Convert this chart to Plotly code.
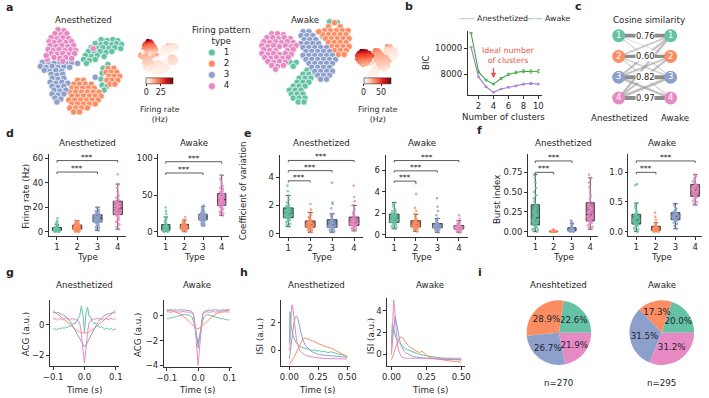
import plotly.graph_objects as go

W, H = 709, 398
FONT = "DejaVu Sans"
TXT = "#262626"
PAL = ["#66c2a5", "#fc8d62", "#8da0cb", "#e78ac3"]
PAL_BOX = ["#55a88d", "#d9794f", "#7888ad", "#c776a6"]
TYPES = [1, 2, 3, 4]
TYPE_LABELS = ["1", "2", "3", "4"]
REDS = [[0.0, "#fff5f0"], [0.125, "#fee0d2"], [0.25, "#fcbba1"], [0.375, "#fc9272"],
        [0.5, "#fb6a4a"], [0.625, "#ef3b2c"], [0.75, "#cb181d"], [0.875, "#a50f15"], [1.0, "#67000d"]]

# ---------------- data: t-SNE embeddings (arbitrary units) ----------------
tsne_anes_1 = [(96,39),(102,40),(108,39),(113,40),(90,43),(96,44),(101,43),(107,44),(112,43),(117,44),
               (86,47),(92,48),(98,47),(104,48),(110,47),(116,48),(83,51),(89,52),(95,51),(101,52),(107,51),
               (80,55),(86,56),(92,55),(99,56),(78,59),(84,60),(90,59),(81,63),(103,64),(98,68),(104,69),
               (97,73),(103,74),(96,79),(101,80),(97,85),(102,86),(99,90)]
tsne_anes_2 = [(103,68),(109,68),(101,72),(106,72),(112,72),(104,76),(109,76),(115,76),(102,80),(107,80),
               (113,80),(105,84),(110,84),(72,80),(78,80),(68,84),(74,84),(80,84),(86,84),(66,88),(71,88),
               (77,88),(83,88),(89,88),(64,92),(70,92),(76,92),(82,92),(88,92),(94,92),(66,96),(72,96),
               (78,96),(84,96),(90,96),(96,96),(63,100),(69,100),(75,100),(81,100),(87,100),(93,100),
               (66,104),(72,104),(78,104),(84,104),(90,104),(64,108),(70,108),(76,108),(82,108),(68,112),(74,112)]
tsne_anes_3 = [(52,58),(58,58),(64,59),(36,62),(42,62),(48,63),(54,62),(60,63),(66,62),(72,63),
               (34,66),(40,67),(46,66),(52,67),(58,66),(64,67),(38,70),(44,71),(50,70),(56,71),
               (45,74),(51,75),(57,74),(46,78),(52,79),(58,78),(44,82),(50,83),(56,82),(62,83),
               (46,86),(52,87),(58,86),(48,90),(54,91),(60,90),(46,94),(52,95),(58,94),(49,98),(55,99),
               (51,102),(90,77)]
tsne_anes_4 = [(52,29),(58,30),(49,33),(55,34),(61,33),(45,37),(51,38),(57,37),(63,38),
               (43,41),(48,42),(54,41),(60,42),(66,41),(44,45),(50,46),(56,45),(62,46),(68,45),
               (42,49),(47,50),(53,49),(59,50),(65,49),(70,50),(45,53),(51,54),(57,53),(63,54),(69,53),
               (48,57),(54,58),(60,57),(66,58),(41,59),(57,61),(88,48),(40,55)]

tsne_awake_1 = [(329,21),(337,22),(322,36),(333,44),(289,62),(295,62),(318,62),(292,66),(312,66),(318,66),
                (306,70),(312,70),(302,74),(308,74),(314,74),(298,78),(304,78),(310,78),(296,82),(302,82),
                (308,82),(292,86),(298,86),(304,86),(288,90),(294,90),(300,90),(290,94),(296,94),(302,94),
                (292,98),(298,98),(304,98),(297,102),(303,102)]
tsne_awake_2 = [(334,22),(328,26),(340,26),(324,30),(330,30),(336,30),(342,30),(348,30),
                (322,34),(328,34),(334,34),(340,34),(346,34),(325,38),(331,38),(337,38),(343,38),(349,38),
                (328,42),(334,42),(340,42),(346,42),(331,46),(337,46),(343,46),(349,46),
                (334,50),(340,50),(346,50),(338,54),(344,54),(315,72),(318,31)]
tsne_awake_3 = [(302,31),(308,31),(300,35),(306,35),(312,35),(303,39),(309,39),(315,39),
                (300,43),(306,43),(312,43),(318,43),(302,47),(308,47),(314,47),(320,47),(326,47),
                (305,51),(311,51),(317,51),(323,51),(329,51),(302,55),(308,55),(314,55),(320,55),(326,55),(332,55),
                (305,59),(311,59),(317,59),(323,59),(329,59),(335,59),(308,63),(314,63),(320,63),(326,63),(332,63),
                (311,67),(317,67),(323,67),(329,67),(314,71),(320,71),(326,71),(332,71),
                (317,75),(323,75),(329,75),(320,79),(326,79)]
tsne_awake_4 = [(270,33),(276,33),(282,34),(265,37),(271,37),(277,38),(283,37),(289,38),
                (262,41),(268,42),(274,41),(280,42),(286,41),(292,42),(260,45),(266,46),(272,45),(278,46),
                (284,45),(290,46),(295,45),(262,49),(268,50),(274,50),(286,50),(292,49),
                (260,53),(266,54),(272,53),(278,54),(284,53),(290,54),(263,57),(269,58),(275,57),(281,58),(287,57),
                (266,61),(272,62),(278,61),(284,62),(270,65),(276,66),(282,65),(274,69)]

# ---------------- data: firing rate (Hz) per neuron, per type ----------------
fr_anes_1 = [11,9,8,7,6,5,5,4,4,3.5,3,3,3,3,2.5,2.5,2,2,2,2,2,1.8,1.5,1.5,1.5,1.2,1,1,1,1,0.8,0.8,0.6,0.5,0.4,0.3,0.2,0.1,0]
fr_anes_2 = [9,8.5,8,8,7.5,7,7,6.5,6.5,6,6,6,5.5,5.5,5,5,5,4.5,4.5,4.5,4,4,4,4,4,3.8,3.5,3.5,3.5,3,
             3,3,3,2.8,2.5,2.5,2.5,2.2,2,2,2,2,1.8,1.5,1.5,1.2,1,1,0.8,0.5,0.3,0.2,0]
fr_anes_3 = [20,19,18,17,16.5,16,15,15,14.5,14,14,13.5,13,13,12.5,12,12,11.5,11.5,11,11,11,10.5,10,10,9.5,9.5,9,9,8.5,
             8.5,8,8,7.5,7,6.5,6,5,4.5,4,3,2,1]
fr_anes_4 = [47,39,36,33,31,29,28,26,25,25,24,23,22,22,21,21,20,20,20,19,19,18,17,17,16,15,15,14,14,13,12,11,10,9,8,6,4,2]
fr_awake_1 = [33,28,24,20,17,15,13,11,10,9,9,8,7.5,7,6.5,6,5.5,5,5,4.5,4,3.5,3,3,2.5,2,2,1.5,1.5,1,1,0.5,0.5,0.2,0]
fr_awake_2 = [20,16,14,13,12,11,10.5,10,10,9.5,9,8.5,8,8,7.5,7,7,6.5,6,6,5.5,5,5,4.5,4,4,3.5,3,2.5,2,1.5,1,0]
fr_awake_3 = [36,34,32,30,29,28,27,26,25.5,25,24.5,24,24,23.5,23,23,22.5,22,22,21.5,21,21,20.5,20.5,20,20,20,19.5,19,19,
              18.5,18.5,18,18,17.5,17,17,16.5,16,16,15.5,15,15,14.5,14,13.5,13,12,11,10,9,8]
fr_awake_4 = [77,72,68,65,62,60,58,56,55,54,53,52,51,50,49,48,47,47,46,46,45,45,44,44,43,42,41,40,40,39,
              38,37,37,36,35,34,33,32,31,30,28,27,25,24,22]

# ---------------- data: coefficient of variation ----------------
cv_anes_1 = [3.4,3.0,2.7,2.4,2.2,2.0,1.95,1.9,1.85,1.8,1.75,1.7,1.65,1.6,1.55,1.5,1.48,1.45,1.42,1.4,1.35,1.3,1.28,1.25,1.2,1.18,1.15,1.1,1.05,1.0,0.95,0.9,0.8,0.7,0.6,0.5]
cv_anes_2 = [2.1,1.7,1.5,1.3,1.2,1.1,1.0,0.95,0.9,0.85,0.8,0.78,0.75,0.72,0.7,0.68,0.66,0.65,0.63,0.6,0.58,0.55,0.52,0.5,0.48,0.46,0.45,0.42,0.4,0.35,0.3,0.25,0.2,0.1]
cv_anes_3 = [3.6,2.2,2.1,1.8,1.4,1.3,1.2,1.1,1.0,0.95,0.9,0.85,0.8,0.75,0.72,0.7,0.67,0.65,0.63,0.6,0.58,0.55,0.52,0.5,0.48,0.46,0.45,0.42,0.4,0.35,0.3,0.25,0.2,0.15,0.1]
cv_anes_4 = [3.4,2.6,2.3,2.0,1.7,1.5,1.4,1.3,1.2,1.1,1.05,1.0,0.95,0.9,0.88,0.85,0.82,0.8,0.78,0.75,0.72,0.7,0.68,0.65,0.62,0.6,0.58,0.55,0.52,0.5,0.45,0.4,0.35,0.3,0.2]
cv_awake_1 = [3.0,2.8,2.6,2.4,2.3,2.2,2.1,2.0,1.95,1.9,1.85,1.8,1.75,1.7,1.65,1.6,1.55,1.52,1.5,1.48,1.45,1.4,1.35,1.3,1.25,1.2,1.18,1.15,1.1,1.05,1.0,0.95,0.9,0.8,0.7,0.6,0.55]
cv_awake_2 = [4.8,3.8,2.5,2.2,1.9,1.65,1.5,1.4,1.3,1.25,1.2,1.15,1.1,1.05,1.0,0.98,0.95,0.92,0.9,0.88,0.85,0.82,0.8,0.78,0.75,0.72,0.7,0.68,0.65,0.6,0.55,0.5,0.4,0.3]
cv_awake_3 = [3.4,2.6,2.2,1.8,1.5,1.35,1.2,1.1,1.05,1.0,0.98,0.95,0.92,0.9,0.87,0.85,0.82,0.8,0.78,0.76,0.74,0.72,0.7,0.68,0.66,0.64,0.62,0.6,0.58,0.55,0.5,0.45,0.4,0.3,0.2]
cv_awake_4 = [1.8,1.5,1.3,1.1,1.0,0.95,0.9,0.87,0.85,0.82,0.8,0.78,0.76,0.74,0.72,0.7,0.69,0.68,0.66,0.64,0.62,0.6,0.58,0.56,0.54,0.52,0.5,0.48,0.45,0.4,0.35,0.3,0.25,0.2]

# ---------------- data: burst index ----------------
bi_anes_1 = [0.72,0.68,0.62,0.55,0.5,0.46,0.42,0.38,0.35,0.33,0.3,0.28,0.26,0.24,0.22,0.2,0.19,0.18,0.17,0.16,0.15,0.14,0.13,0.12,0.11,0.1,0.09,0.08,0.07,0.06,0.05,0.04,0.03,0.02,0.01,0.0]
bi_anes_2 = [0.03,0.02,0.015,0.01,0.008,0.006,0.005,0.004,0.003,0.002,0.002,0.001,0.001,0.0,0.0,0.0,0.0,0.0,0.0,0.0,0.0,0.0,0.0,0.0,0.0,0.0,0.0,0.0,0.0,0.0]
bi_anes_3 = [0.14,0.13,0.12,0.1,0.08,0.07,0.06,0.05,0.045,0.04,0.035,0.03,0.03,0.025,0.025,0.02,0.02,0.02,0.018,0.015,0.015,0.012,0.01,0.01,0.01,0.008,0.005,0.005,0.003,0.0]
bi_anes_4 = [0.72,0.68,0.62,0.56,0.5,0.45,0.42,0.38,0.35,0.32,0.3,0.29,0.27,0.25,0.24,0.22,0.21,0.2,0.19,0.18,0.17,0.16,0.15,0.14,0.13,0.12,0.11,0.1,0.08,0.06,0.05,0.03]
bi_awake_1 = [0.8,0.78,0.48,0.44,0.4,0.36,0.33,0.3,0.29,0.28,0.26,0.25,0.24,0.23,0.22,0.21,0.2,0.2,0.19,0.18,0.17,0.16,0.15,0.14,0.13,0.12,0.11,0.1,0.08,0.06,0.04,0.02,0.0]
bi_awake_2 = [0.32,0.25,0.2,0.15,0.13,0.11,0.1,0.09,0.08,0.075,0.07,0.065,0.06,0.055,0.05,0.05,0.045,0.04,0.035,0.03,0.03,0.025,0.02,0.02,0.015,0.01,0.01,0.005,0.0,0.0]
bi_awake_3 = [0.47,0.44,0.41,0.38,0.36,0.34,0.33,0.32,0.31,0.3,0.29,0.28,0.27,0.26,0.26,0.25,0.25,0.24,0.23,0.22,0.21,0.2,0.2,0.19,0.18,0.17,0.15,0.13,0.1,0.05]
bi_awake_4 = [0.96,0.93,0.9,0.87,0.85,0.82,0.8,0.79,0.77,0.75,0.74,0.72,0.71,0.7,0.7,0.69,0.68,0.66,0.64,0.62,0.6,0.59,0.57,0.55,0.52,0.5,0.47,0.45]

# ---------------- data: BIC ----------------
n_clusters = [1, 2, 3, 4, 5, 6, 7, 8, 9, 10]
bic_anes = [10100, 7790, 7020, 6590, 6850, 6980, 7080, 7230, 7280, 7230]
bic_anes_err = [40, 60, 50, 40, 50, 60, 60, 70, 80, 70]
bic_awake = [11200, 8180, 7540, 7230, 7670, 7980, 8130, 8230, 8210, 8230]
bic_awake_err = [40, 60, 60, 50, 70, 90, 100, 110, 120, 120]
ideal_k = 4

# ---------------- data: cosine similarity (rows anesthetized, cols awake) ----------------
cos_sim = [[0.76, 0.30, 0.35, 0.20],
           [0.50, 0.60, 0.45, 0.40],
           [0.60, 0.55, 0.82, 0.65],
           [0.65, 0.60, 0.70, 0.97]]

# ---------------- data: ACG ----------------
acg_t = [-0.1,-0.095,-0.09,-0.085,-0.08,-0.075,-0.07,-0.065,-0.06,-0.055,-0.05,-0.045,-0.04,-0.035,-0.03,-0.025,-0.02,-0.015,-0.01,-0.005,
         0.0,0.005,0.01,0.015,0.02,0.025,0.03,0.035,0.04,0.045,0.05,0.055,0.06,0.065,0.07,0.075,0.08,0.085,0.09,0.095,0.1]
acg_anes_1 = [-0.30,-0.25,-0.35,-0.28,-0.22,-0.30,-0.18,-0.25,-0.15,-0.20,-0.10,-0.12,0.00,0.10,0.05,0.25,0.45,0.60,1.20,0.70,-0.50,
              0.75,1.15,0.55,0.50,0.20,0.08,0.12,-0.05,-0.10,-0.18,-0.12,-0.20,-0.30,-0.22,-0.28,-0.32,-0.25,-0.35,-0.30,-0.28]
acg_anes_2 = [0.90,0.80,0.75,0.68,0.60,0.50,0.42,0.35,0.25,0.15,0.07,-0.02,-0.10,-0.20,-0.28,-0.35,-0.42,-0.48,-0.53,-0.55,-0.56,
              -0.55,-0.52,-0.47,-0.40,-0.33,-0.25,-0.17,-0.08,0.02,0.10,0.20,0.28,0.36,0.45,0.52,0.60,0.68,0.78,0.85,0.95]
acg_anes_3 = [0.80,0.78,0.75,0.80,0.72,0.70,0.68,0.62,0.55,0.45,0.35,0.20,0.05,-0.15,-0.35,-0.55,-0.75,-0.95,-1.15,-1.35,-1.45,
              -1.33,-1.12,-0.93,-0.73,-0.52,-0.33,-0.12,0.05,0.22,0.36,0.46,0.55,0.62,0.68,0.72,0.70,0.76,0.78,0.74,0.80]
acg_anes_4 = [0.35,0.45,0.30,0.40,0.32,0.42,0.30,0.38,0.45,0.33,0.40,0.30,0.42,0.35,0.38,0.30,0.25,0.10,-0.50,-1.60,-2.50,
              -1.55,-0.45,0.12,0.28,0.32,0.40,0.33,0.45,0.36,0.42,0.31,0.40,0.35,0.44,0.30,0.38,0.42,0.33,0.40,0.36]
acg_awake_1 = [-0.20,-0.25,-0.15,-0.20,-0.10,-0.12,-0.05,0.00,-0.02,0.05,0.10,0.08,0.10,0.05,0.10,0.00,-0.10,-0.40,-0.90,-1.60,-2.20,
               -1.55,-0.85,-0.35,-0.05,0.05,0.12,0.06,0.02,0.00,-0.05,-0.10,-0.12,-0.18,-0.20,-0.25,-0.22,-0.30,-0.28,-0.35,-0.32]
acg_awake_2 = [0.45,0.40,0.50,0.42,0.38,0.35,0.30,0.25,0.18,0.10,0.02,-0.08,-0.18,-0.30,-0.42,-0.55,-0.68,-0.80,-0.90,-1.00,-1.05,
               -0.98,-0.88,-0.78,-0.66,-0.53,-0.40,-0.28,-0.16,-0.06,0.04,0.12,0.20,0.26,0.32,0.36,0.40,0.44,0.48,0.52,0.55]
acg_awake_3 = [0.45,0.50,0.42,0.48,0.45,0.50,0.44,0.48,0.46,0.50,0.45,0.48,0.44,0.46,0.42,0.40,0.35,0.10,-0.60,-1.60,-2.60,
               -1.55,-0.55,0.12,0.36,0.42,0.45,0.47,0.44,0.49,0.46,0.50,0.45,0.48,0.43,0.47,0.50,0.44,0.48,0.46,0.42]
acg_awake_4 = [0.30,0.35,0.28,0.32,0.30,0.35,0.28,0.33,0.30,0.32,0.28,0.34,0.30,0.32,0.30,0.28,0.25,0.20,-0.80,-2.50,-4.00,
               -2.45,-0.75,0.22,0.26,0.30,0.33,0.28,0.32,0.30,0.35,0.29,0.31,0.34,0.28,0.32,0.30,0.33,0.29,0.31,0.30]

# ---------------- data: ISI ----------------
isi_t = [0.0,0.005,0.01,0.015,0.02,0.025,0.03,0.04,0.05,0.06,0.07,0.08,0.09,0.1,0.12,0.14,0.16,0.18,0.2,0.22,
         0.24,0.26,0.28,0.3,0.33,0.36,0.39,0.42,0.45,0.48,0.5]
isi_anes_1 = [0.5,2.8,2.3,1.8,1.5,1.3,1.15,0.9,0.7,0.55,0.45,0.35,0.3,0.25,0.2,0.12,0.1,0.05,0.0,0.05,
              -0.05,0.0,-0.1,-0.05,-0.15,-0.1,-0.2,-0.25,-0.3,-0.35,-0.4]
isi_anes_2 = [-1.0,-0.95,-0.9,-0.85,-0.8,-0.72,-0.65,-0.5,-0.35,-0.2,-0.05,0.15,0.35,0.55,0.85,0.9,0.8,0.75,0.7,0.6,
              0.55,0.45,0.4,0.35,0.25,0.15,0.05,-0.1,-0.2,-0.35,-0.45]
isi_anes_3 = [-0.6,-0.4,0.0,0.4,0.8,1.2,1.5,2.0,2.35,2.5,2.4,2.1,1.7,1.3,0.7,0.35,0.15,0.0,-0.1,-0.2,
              -0.25,-0.3,-0.32,-0.35,-0.38,-0.4,-0.42,-0.45,-0.47,-0.48,-0.5]
isi_anes_4 = [0.0,0.2,1.5,2.6,3.2,3.3,3.1,2.3,1.5,0.9,0.5,0.2,0.0,-0.1,-0.25,-0.35,-0.4,-0.45,-0.48,-0.5,
              -0.52,-0.55,-0.55,-0.57,-0.58,-0.6,-0.6,-0.6,-0.6,-0.62,-0.62]
isi_awake_1 = [1.0,2.8,2.7,2.4,2.1,1.8,1.6,1.3,1.1,1.0,0.9,0.7,0.6,0.5,0.4,0.25,0.15,0.05,0.0,-0.05,
               -0.1,-0.15,-0.2,-0.25,-0.3,-0.35,-0.38,-0.42,-0.45,-0.48,-0.5]
isi_awake_2 = [-0.5,-0.3,0.0,0.2,0.4,0.6,0.8,1.1,1.4,1.55,1.6,1.5,1.3,1.1,0.8,0.6,0.45,0.3,0.15,0.3,
               0.0,-0.2,-0.3,-0.35,-0.45,-0.5,-0.55,-0.6,-0.65,-0.7,-0.72]
isi_awake_3 = [0.3,1.0,2.0,2.8,3.3,3.5,3.3,2.6,1.8,1.2,0.8,0.5,0.3,0.15,0.0,-0.1,-0.2,-0.25,-0.3,-0.32,
               -0.35,-0.38,-0.4,-0.42,-0.43,-0.45,-0.46,-0.47,-0.48,-0.5,-0.5]
isi_awake_4 = [0.0,1.5,4.2,5.0,4.5,3.5,2.5,1.2,0.4,0.0,-0.2,-0.3,-0.35,-0.35,-0.35,-0.35,-0.35,-0.35,-0.35,-0.35,
               -0.35,-0.35,-0.35,-0.35,-0.35,-0.35,-0.35,-0.35,-0.35,-0.35,-0.35]

# ---------------- data: type proportions ----------------
count_anes = [61, 78, 72, 59]
count_awake = [59, 51, 93, 92]

# =====================================================================
fig = go.Figure()
layout = dict(width=W, height=H, margin=dict(l=0, r=0, t=0, b=0), paper_bgcolor="white",
              plot_bgcolor="rgba(0,0,0,0)", showlegend=False, boxmode="overlay",
              uniformtext=dict(minsize=8.7, mode="show"),
              font=dict(family=FONT, size=8.7, color=TXT))
ANN = []


def akey(n):
    return ("xaxis", "yaxis") if n == 1 else (f"xaxis{n}", f"yaxis{n}")


def aref(n):
    return ("x", "y") if n == 1 else (f"x{n}", f"y{n}")


def style(visible=True):
    if not visible:
        return dict(visible=False, fixedrange=True)
    return dict(showline=True, linecolor="#333", linewidth=0.8, ticks="outside", ticklen=3,
                tickwidth=0.8, tickcolor="#333", showgrid=False, zeroline=False, fixedrange=True,
                tickfont=dict(size=8.5, color=TXT, family=FONT))


def axes(n, box, xr, yr, visible=True, xkw=None, ykw=None):
    x0, x1, y0, y1 = box
    kx, ky = akey(n)
    rx, ry = aref(n)
    xa = style(visible); ya = style(visible)
    xa.update(domain=[x0 / W, x1 / W], range=xr, anchor=ry)
    ya.update(domain=[1 - y1 / H, 1 - y0 / H], range=yr, anchor=rx)
    if xkw: xa.update(xkw)
    if ykw: ya.update(ykw)
    layout[kx] = xa
    layout[ky] = ya
    return rx, ry


def text(s, x, y, size=8.7, bold=False, color=TXT, xanchor="center", yanchor="middle", angle=0):
    ANN.append(dict(text=f"<b>{s}</b>" if bold else s, x=x / W, y=1 - y / H, xref="paper", yref="paper",
                    showarrow=False, xanchor=xanchor, yanchor=yanchor, textangle=angle,
                    font=dict(size=size, color=color, family=FONT)))


# ---------------- panel a ----------------
tsne_anes = [tsne_anes_1, tsne_anes_2, tsne_anes_3, tsne_anes_4]
tsne_awake = [tsne_awake_1, tsne_awake_2, tsne_awake_3, tsne_awake_4]
fr_anes = [fr_anes_1, fr_anes_2, fr_anes_3, fr_anes_4]
fr_awake = [fr_awake_1, fr_awake_2, fr_awake_3, fr_awake_4]


def tsne_panel(n_main, box_main, n_small, box_small, xr, yr, clusters, rates, cbx, cb_ticks):
    rx, ry = axes(n_main, box_main, xr, yr, visible=False)
    for k, pts in zip(TYPES, clusters):
        fig.add_trace(go.Scatter(x=[p[0] for p in pts], y=[p[1] for p in pts], mode="markers",
                                 marker=dict(size=6.4, color=PAL[k - 1], line=dict(color="white", width=0.7)),
                                 xaxis=rx, yaxis=ry, hoverinfo="skip"))
    sx, sy = axes(n_small, box_small, xr, yr, visible=False)
    xs, ys, cs = [], [], []
    for pts, fr in zip(clusters, rates):
        for p, v in zip(pts, fr):
            xs.append(p[0]); ys.append(p[1]); cs.append(v)
    fig.add_trace(go.Scatter(x=xs, y=ys, mode="markers", xaxis=sx, yaxis=sy, hoverinfo="skip",
                             marker=dict(size=4.2, color=cs, colorscale=REDS, cmin=0, cmax=max(cs),
                                         showscale=True,
                                         colorbar=dict(orientation="h", x=cbx / W, xanchor="center",
                                                       y=1 - 88 / H, yanchor="middle", len=28 / W,
                                                       lenmode="fraction", thickness=6, xpad=0, ypad=0,
                                                       tickvals=cb_ticks, ticks="outside", ticklen=2,
                                                       tickwidth=0.6, tickcolor="#333",
                                                       tickfont=dict(size=8, color=TXT, family=FONT),
                                                       outlinewidth=0.6, outlinecolor="#333"))))


tsne_panel(1, (30, 123, 22, 116), 2, (133.6, 176.4, 37.5, 76), [30, 123], [116, 22],
           tsne_anes, fr_anes, 156, [0, 25])
tsne_panel(3, (255, 355, 15, 110), 4, (354.8, 399.2, 43, 82), [255, 355], [110, 15],
           tsne_awake, fr_awake, 377.5, [0, 50])

text("a", 3, 7, size=11, bold=True)
text("Anesthetized", 78, 19)
text("Awake", 304, 19)
text("Firing rate<br>(Hz)", 156, 115, size=7.8)
text("Firing rate<br>(Hz)", 378, 115, size=7.8)
text("Firing pattern<br>type", 218, 35, size=8.7)

lx, ly = axes(5, (200, 240, 46, 92), [0, 1], [4.53, 0.47], visible=False)
fig.add_trace(go.Scatter(x=[0.225] * len(TYPES), y=TYPES, mode="markers", xaxis=lx, yaxis=ly,
                         marker=dict(size=7, color=PAL, line=dict(color="white", width=0.6)), hoverinfo="skip"))
fig.add_trace(go.Scatter(x=[0.6] * len(TYPES), y=TYPES, mode="text", text=TYPE_LABELS, xaxis=lx, yaxis=ly,
                         textfont=dict(size=8.7, color=TXT, family=FONT), hoverinfo="skip"))

# ---------------- panel b ----------------
bx, by = axes(6, (470, 545.5, 30, 95), [0.55, 10.45], [6380, 11380],
              xkw=dict(tickvals=[2, 4, 6, 8, 10]), ykw=dict(tickvals=[8000, 10000], tickformat="d"))
C_AN, C_AW = "#a07ed0", "#41a83f"
fig.add_trace(go.Scatter(x=n_clusters, y=bic_anes, mode="lines", line=dict(color=C_AN, width=1.1),
                         error_y=dict(type="data", array=bic_anes_err, color=C_AN, thickness=0.8, width=1.5),
                         xaxis=bx, yaxis=by, hoverinfo="skip"))
fig.add_trace(go.Scatter(x=n_clusters, y=bic_awake, mode="lines", line=dict(color=C_AW, width=1.1),
                         error_y=dict(type="data", array=bic_awake_err, color=C_AW, thickness=0.8, width=1.5),
                         xaxis=bx, yaxis=by, hoverinfo="skip"))
RED = "#e8544b"
ANN.append(dict(x=ideal_k, y=bic_awake[ideal_k - 1] + 460, xref=bx, yref=by, ax=ideal_k,
                ay=bic_awake[ideal_k - 1] + 1380, axref=bx, ayref=by, text="", showarrow=True,
                arrowhead=2, arrowsize=0.9, arrowwidth=1.2, arrowcolor=RED))
text("Ideal number<br>of clusters", 483, 55, size=7.8, color=RED, xanchor="left")
text("b", 410, 6, size=11, bold=True)
text("BIC", 428, 62, angle=-90)
text("Number of clusters", 507, 117.5)
text(f'<span style="color:{C_AN}">——</span> Anesthetized', 459, 18, size=7.8, xanchor="left")
text(f'<span style="color:{C_AW}">——</span> Awake', 528, 18, size=7.8, xanchor="left")

# ---------------- panel c ----------------
cx, cy = axes(7, (610, 692, 25, 108), [-0.264, 1.283], [4.476, 0.524], visible=False)
for i in range(4):
    for j in range(4):
        if i == j:
            continue
        s = cos_sim[i][j]
        fig.add_trace(go.Scatter(x=[0, 1], y=[TYPES[i], TYPES[j]], mode="lines", xaxis=cx, yaxis=cy,
                                 line=dict(color=f"rgba(150,150,150,{0.2 + 0.6 * s:.2f})", width=4.2 * s ** 1.3),
                                 hoverinfo="skip"))
for i in range(4):
    s = cos_sim[i][i]
    fig.add_trace(go.Scatter(x=[0, 1], y=[TYPES[i], TYPES[i]], mode="lines", xaxis=cx, yaxis=cy,
                             line=dict(color="#8c8c8c", width=4.2 * s ** 0.5), hoverinfo="skip"))
    ANN.append(dict(x=0.5, y=TYPES[i], xref=cx, yref=cy, text=f"{s:.2f}", showarrow=False, bgcolor="white",
                    borderpad=0, font=dict(size=8.3, color=TXT, family=FONT)))
for side in (0, 1):
    fig.add_trace(go.Scatter(x=[side] * 4, y=TYPES, mode="markers+text", text=TYPE_LABELS,
                             textposition="middle center", xaxis=cx, yaxis=cy, hoverinfo="skip",
                             textfont=dict(size=8.5, color="white", family=FONT),
                             marker=dict(size=13, color=PAL)))
text("c", 583, 6, size=11, bold=True)
text("Cosine similarity", 655, 19)
text("Anesthetized", 625, 118)
text("Awake", 681, 118)


# ---------------- panels d, e, f ----------------
def box_panel(n, box, yr, groups, pairs, yticks, tickformat=None, xr=(0.6, 4.4)):
    ykw = dict(tickvals=yticks)
    if tickformat:
        ykw["tickformat"] = tickformat
    rx, ry = axes(n, box, list(xr), yr, xkw=dict(tickvals=TYPES, ticktext=TYPE_LABELS), ykw=ykw)
    for k, vals in zip(TYPES, groups):
        fig.add_trace(go.Box(y=vals, x0=k, width=0.45, boxpoints="all", jitter=0.8, pointpos=0,
                             marker=dict(size=2.6, color=PAL[k - 1], opacity=0.8),
                             fillcolor=PAL_BOX[k - 1], line=dict(color="#333333", width=0.9),
                             whiskerwidth=0.5, xaxis=rx, yaxis=ry, hoverinfo="skip"))
    M = max(max(g) for g in groups)
    for lvl, (a, b) in enumerate(pairs):
        h = M * (1.04 + 0.2 * lvl)
        d = 0.035 * M
        fig.add_trace(go.Scatter(x=[a, a, b, b], y=[h - d, h, h, h - d], mode="lines", xaxis=rx, yaxis=ry,
                                 line=dict(color="#333", width=0.8), hoverinfo="skip"))
        ANN.append(dict(x=(a + b) / 2, y=h, xref=rx, yref=ry, text="***", showarrow=False, yanchor="bottom",
                        yshift=-3, font=dict(size=7.5, color=TXT, family=FONT)))


box_panel(8, (42.7, 121.3, 155, 237), [-3.2, 63.3], fr_anes, [(1, 3), (1, 4)], [0, 20, 40, 60])
box_panel(9, (154.4, 226.6, 155, 237), [-5.4, 105.4], fr_awake, [(1, 3), (1, 4)], [0, 50, 100])
box_panel(10, (278, 363, 156, 238), [-0.21, 5.54], [cv_anes_1, cv_anes_2, cv_anes_3, cv_anes_4],
          [(1, 2), (1, 3), (1, 4)], [0, 2, 4])
box_panel(11, (386.2, 469.8, 156, 238), [-0.185, 7.39], [cv_awake_1, cv_awake_2, cv_awake_3, cv_awake_4],
          [(1, 2), (1, 3), (1, 4)], [0, 2, 4, 6])
box_panel(12, (531.5, 602.5, 155, 237), [-0.05, 0.975], [bi_anes_1, bi_anes_2, bi_anes_3, bi_anes_4],
          [(1, 2), (1, 3)], [0, 0.25, 0.5, 0.75], ".2f")
box_panel(13, (634, 709, 155, 237), [-0.067, 1.3], [bi_awake_1, bi_awake_2, bi_awake_3, bi_awake_4],
          [(1, 2), (1, 4)], [0, 0.5, 1.0], ".1f", xr=(0.6, 4.35))

text("d", 3, 134, size=11, bold=True)
text("e", 245, 134, size=11, bold=True)
text("f", 482, 131, size=11, bold=True)
for xc, lab in [(82, "Anesthetized"), (191, "Awake"), (321, "Anesthetized"), (423, "Awake"),
                (568, "Anesthetized"), (668, "Awake")]:
    text(lab, xc, 143)
for xc in (82, 191, 321, 423, 568, 668):
    text("Type", xc, 259)
text("Firing rate (Hz)", 19, 197, angle=-90)
text("Coefficient of variation", 241, 192, angle=-90)
text("Burst index", 500, 200, angle=-90)


# ---------------- panels g, h ----------------
def line_panel(n, box, xr, yr, t, series, xticks, yticks, xfmt):
    rx, ry = axes(n, box, xr, yr, xkw=dict(tickvals=xticks, tickformat=xfmt), ykw=dict(tickvals=yticks))
    for k, ys in zip(TYPES, series):
        fig.add_trace(go.Scatter(x=t, y=ys, mode="lines", line=dict(color=PAL[k - 1], width=1.0),
                                 xaxis=rx, yaxis=ry, hoverinfo="skip"))


line_panel(14, (44, 114, 302, 369), [-0.1094, 0.1094], [-2.71, 1.61], acg_t,
           [acg_anes_1, acg_anes_2, acg_anes_3, acg_anes_4], [-0.1, 0, 0.1], [-2, 0], ".1f")
line_panel(15, (160, 230, 302, 370), [-0.1094, 0.1094], [-4.16, 1.28], acg_t,
           [acg_awake_1, acg_awake_2, acg_awake_3, acg_awake_4], [-0.1, 0, 0.1], [-4, -2, 0], ".1f")
line_panel(16, (280, 350, 302, 369), [-0.068, 0.525], [-1.14, 3.64], isi_t,
           [isi_anes_1, isi_anes_2, isi_anes_3, isi_anes_4], [0, 0.25, 0.5], [0, 2], ".2f")
line_panel(17, (388, 467, 300, 369), [-0.03, 0.525], [-1.09, 5.18], isi_t,
           [isi_awake_1, isi_awake_2, isi_awake_3, isi_awake_4], [0, 0.25, 0.5], [0, 2, 4], ".2f")

text("g", 3, 274, size=11, bold=True)
text("h", 242, 274, size=11, bold=True)
text("i", 483, 274, size=11, bold=True)
for xc, lab in [(79, "Anesthetized"), (194, "Awake"), (316, "Anesthetized"), (432, "Awake")]:
    text(lab, xc, 287)
for xc in (79, 194, 316, 432):
    text("Time (s)", xc, 393)
text("ACG (a.u.)", 19, 337, angle=-90)
text("ACG (a.u.)", 133, 337, angle=-90)
text("ISI (a.u.)", 258, 338, angle=-90)
text("ISI (a.u.)", 371, 338, angle=-90)

# ---------------- panel i ----------------
for counts, cxp, title in [(count_anes, 563, "Aneshtetized"), (count_awake, 668, "Awake")]:
    # first slice (type 1) starts at 3 o'clock and the rest follow counterclockwise
    first_angle = 360.0 * counts[0] / sum(counts)
    fig.add_trace(go.Pie(values=counts, labels=TYPE_LABELS, marker=dict(colors=PAL, line=dict(width=0)),
                         sort=False, direction="counterclockwise", rotation=90 - first_angle, textinfo="percent",
                         texttemplate="%{percent:.1%}", textposition="inside", insidetextorientation="horizontal",
                         textfont=dict(size=8.7, color="#1f1f2e", family=FONT),
                         domain=dict(x=[(cxp - 33) / W, (cxp + 33) / W], y=[1 - 368 / H, 1 - 302 / H]),
                         hoverinfo="skip", showlegend=False))
    text(title, cxp, 287)
    text(f"n={sum(counts)}", cxp, 386)

layout["annotations"] = ANN
fig.update_layout(**layout)
fig.write_html("out.html")
